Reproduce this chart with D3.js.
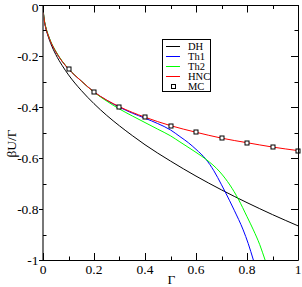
<!DOCTYPE html>
<html><head><meta charset="utf-8">
<script src="https://cdn.jsdelivr.net/npm/d3@7"></script>
<style>html,body{margin:0;padding:0;background:#fff;}svg{display:block;}</style>
</head><body>
<svg id="c" width="302" height="287"></svg>
<script>
// ---- data ----
const dhG  = [0.001,0.005,0.01,0.02,0.03,0.05,0.075,0.1,0.15,0.2,0.25,0.3,0.35,0.4,0.5,0.6,0.7,0.8,0.9,1.0];
const dhU  = [-0.027,-0.061,-0.087,-0.122,-0.150,-0.194,-0.237,-0.274,-0.335,-0.387,-0.433,-0.474,-0.512,-0.548,-0.612,-0.671,-0.725,-0.775,-0.822,-0.866];
const hncG = [0.001,0.005,0.01,0.02,0.03,0.05,0.075,0.1,0.15,0.2,0.25,0.3,0.35,0.4,0.5,0.6,0.7,0.8,0.9,1.0];
const hncU = [-0.027,-0.060,-0.085,-0.118,-0.144,-0.183,-0.221,-0.251,-0.298,-0.341,-0.373,-0.399,-0.421,-0.440,-0.473,-0.499,-0.522,-0.540,-0.557,-0.571];
const th1G = [0.001,0.005,0.01,0.02,0.03,0.05,0.075,0.1,0.15,0.2,0.25,0.3,0.35,0.4,0.45,0.5,0.537,0.57,0.6,0.639,0.67,0.7,0.714,0.75,0.785,0.805,0.825,0.84];
const th1U = [-0.027,-0.060,-0.085,-0.118,-0.144,-0.183,-0.221,-0.251,-0.298,-0.341,-0.374,-0.401,-0.424,-0.444,-0.465,-0.490,-0.516,-0.540,-0.566,-0.605,-0.650,-0.705,-0.732,-0.805,-0.882,-0.936,-1.0,-1.05];
const th2G = [0.001,0.005,0.01,0.02,0.03,0.05,0.075,0.1,0.15,0.2,0.25,0.3,0.35,0.4,0.45,0.5,0.537,0.6,0.639,0.694,0.733,0.766,0.8,0.825,0.85,0.871,0.885];
const th2U = [-0.022,-0.057,-0.082,-0.116,-0.142,-0.181,-0.220,-0.250,-0.298,-0.342,-0.377,-0.408,-0.435,-0.461,-0.487,-0.513,-0.537,-0.578,-0.605,-0.655,-0.706,-0.761,-0.83,-0.882,-0.94,-1.0,-1.04];
const mcG  = [0.1,0.2,0.3,0.4,0.5,0.6,0.7,0.8,0.9,1.0];
const mcU  = [-0.251,-0.341,-0.399,-0.440,-0.473,-0.499,-0.522,-0.540,-0.558,-0.571];
const xMajor = [0,0.2,0.4,0.6,0.8,1];
const xMinor = [0.1,0.3,0.5,0.7,0.9];
const yMajor = [0,-0.2,-0.4,-0.6,-0.8,-1];
const yMinor = [-0.1,-0.3,-0.5,-0.7,-0.9];
const xTickLabels = ["0","0.2","0.4","0.6","0.8","1"];
const yTickLabels = ["0","-0.2","-0.4","-0.6","-0.8","-1"];
const seriesNames = ["DH","Th1","Th2","HNC","MC"];
const seriesColors = ["#000000","#0000ff","#00ff00","#ff0000","#000000"];

// ---- layout ----
const L = 43, R = 298, T = 5, B = 260;
const x = d3.scaleLinear().domain([0,1]).range([L,R]);
const y = d3.scaleLinear().domain([-1,0]).range([B,T]);
const svg = d3.select("#c");
const font = "'Liberation Serif','Times New Roman',serif";

svg.append("defs").append("clipPath").attr("id","clip")
  .append("rect").attr("x",L).attr("y",T).attr("width",R-L).attr("height",B-T);

const line = d3.line().x(d=>x(d[0])).y(d=>y(d[1])).curve(d3.curveMonotoneX);
const zip = (a,b)=>a.map((v,i)=>[v,b[i]]);
const curves = [[dhG,dhU],[th1G,th1U],[th2G,th2U],[hncG,hncU]];
const g = svg.append("g").attr("clip-path","url(#clip)");
curves.forEach((c,i)=>{
  g.append("path").attr("d",line(zip(c[0],c[1])))
   .attr("fill","none").attr("stroke",seriesColors[i]).attr("stroke-width",1);
});
const s = 5;
svg.append("g").selectAll("rect").data(zip(mcG,mcU)).join("rect")
  .attr("x",d=>Math.round(x(d[0]))-s/2+0.5).attr("y",d=>Math.round(y(d[1]))-s/2+0.5)
  .attr("width",s-1).attr("height",s-1)
  .attr("fill","#fff").attr("stroke","#000").attr("stroke-width",1);

// ---- frame and ticks ----
const fr = svg.append("g").attr("stroke","#000").attr("stroke-width",1).attr("fill","none");
fr.append("line").attr("x1",L).attr("x2",L).attr("y1",T).attr("y2",B+0.5).attr("stroke-width",1.6).attr("stroke","#555");
fr.append("line").attr("x1",L).attr("x2",R+0.5).attr("y1",B+0.5).attr("y2",B+0.5);
fr.append("line").attr("x1",L).attr("x2",R+0.5).attr("y1",T+0.5).attr("y2",T+0.5);
fr.append("line").attr("x1",R+0.5).attr("x2",R+0.5).attr("y1",T).attr("y2",B+0.5);
const maj = 7, mnr = 3.5;
[[xMajor,maj],[xMinor,mnr]].forEach(([arr,len])=>{
  arr.forEach(v=>{
    const px = Math.round(x(v))+0.5;
    fr.append("line").attr("x1",px).attr("x2",px).attr("y1",B).attr("y2",B-len);
    fr.append("line").attr("x1",px).attr("x2",px).attr("y1",T+0.5).attr("y2",T+0.5+len);
  });
});
yMajor.forEach(v=>{
  const py = Math.round(y(v))+0.5;
  fr.append("line").attr("x1",L-4).attr("x2",L).attr("y1",py).attr("y2",py);
  fr.append("line").attr("x1",R).attr("x2",R-maj).attr("y1",py).attr("y2",py);
});
yMinor.forEach(v=>{
  const py = Math.round(y(v))+0.5;
  fr.append("line").attr("x1",L).attr("x2",L+mnr).attr("y1",py).attr("y2",py);
  fr.append("line").attr("x1",R).attr("x2",R-mnr).attr("y1",py).attr("y2",py);
});

// ---- tick labels ----
const tl = svg.append("g").attr("font-family",font).attr("font-size",13.5).attr("fill","#000");
xMajor.forEach((v,i)=>{
  tl.append("text").attr("x",x(v)).attr("y",273.5).attr("text-anchor","middle").text(xTickLabels[i]);
});
yMajor.forEach((v,i)=>{
  const py = Math.max(y(v) + 4.7, 12);
  tl.append("text").attr("x",38.5).attr("y",py).attr("text-anchor","end").text(yTickLabels[i]);
});
// axis titles
svg.append("text").attr("x",(L+R)/2+1).attr("y",283.5).attr("text-anchor","middle")
  .attr("font-family",font).attr("font-size",13.5).text("Γ");
svg.append("text").attr("transform","translate(16,143.5) rotate(-90)").attr("text-anchor","middle")
  .attr("font-family",font).attr("font-size",13.5).text("βU/Γ");

// ---- legend ----
const lg = svg.append("g");
lg.append("rect").attr("x",162.5).attr("y",39.5).attr("width",48).attr("height",52)
  .attr("fill","#fff").attr("stroke","#000").attr("stroke-width",1);
seriesNames.forEach((n,i)=>{
  const ly = 46.5 + i*10;
  if (i<4) {
    lg.append("line").attr("x1",166).attr("x2",180).attr("y1",ly).attr("y2",ly)
      .attr("stroke",seriesColors[i]).attr("stroke-width",1);
  } else {
    lg.append("rect").attr("x",171.5).attr("y",ly-2).attr("width",4).attr("height",4)
      .attr("fill","#fff").attr("stroke","#000").attr("stroke-width",1);
  }
  lg.append("text").attr("x",188).attr("y",ly+3.5).attr("font-family",font).attr("font-size",10.5).text(n);
});
</script>
</body></html>
